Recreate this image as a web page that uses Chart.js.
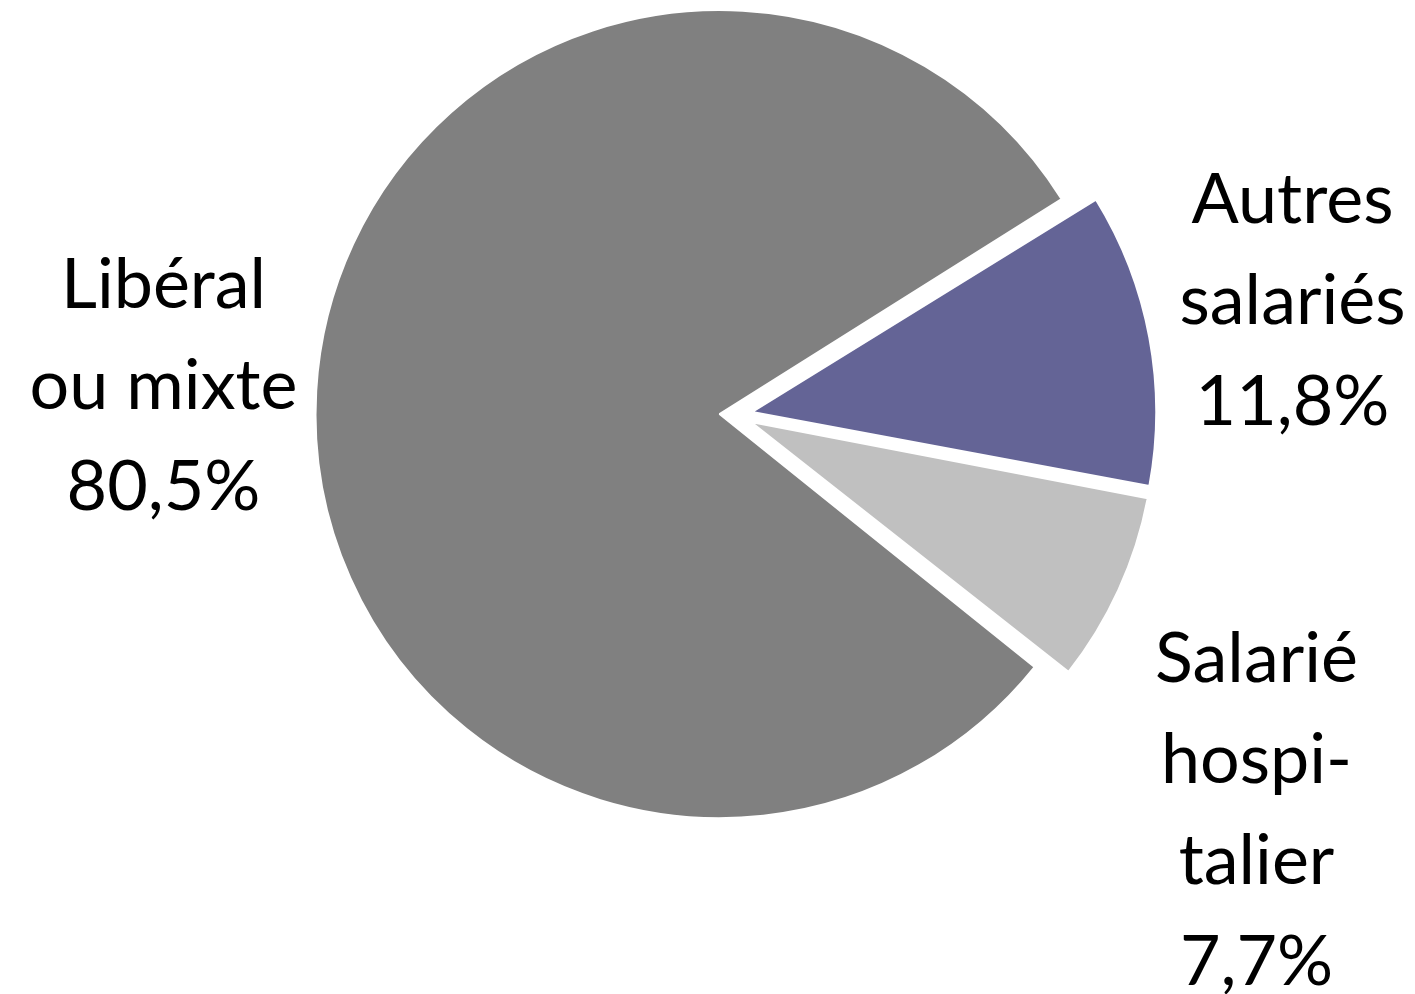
<!DOCTYPE html>
<html lang="fr">
<head>
<meta charset="utf-8">
<title>Répartition par mode d'exercice</title>
<script src="https://cdn.jsdelivr.net/npm/chart.js"></script>
<style>
  html, body { margin: 0; padding: 0; background: #fff; }
  #wrap { width: 1415px; height: 994px; position: relative; }
</style>
</head>
<body>
<div id="wrap"><canvas id="pie"></canvas></div>
<script>
// data, in clockwise order starting from the upper edge of the purple slice
var labels = [['Autres', 'salariés'], ['Salarié', 'hospi-', 'talier'], ['Libéral', 'ou mixte']];
var values = [11.8, 7.7, 80.5];
var colours = ['#646496', '#c0c0c0', '#808080'];
// every slice is pulled out a little; Chart.js moves an arc by offset/4
var explode = [68, 68, 64];

// text blocks, relative to the pie centre (x of the centre line, y of first baseline)
var labelAnchor = [[557, -192], [521, 267], [-572, -107]];
var lineHeight = 101;

function pct(v) {
  return v.toFixed(1).replace('.', ',') + '%';
}

// Chart.js also grows an exploded arc's radius; undo that so all slices keep the same size
var keepRadius = {
  id: 'keepRadius',
  beforeDatasetsDraw: function (chart) {
    var meta = chart.getDatasetMeta(0);
    var R = meta.controller.outerRadius;
    meta.data.forEach(function (arc) {
      var off = (arc.options.offset || 0) / 4;
      var fix = 1 - Math.sin(Math.min(Math.PI, arc.circumference || 0));
      arc.outerRadius = R - off * fix;
    });
  }
};

var pieLabels = {
  id: 'pieLabels',
  afterDatasetsDraw: function (chart) {
    var ctx = chart.ctx;
    var arcs = chart.getDatasetMeta(0).data;
    ctx.save();
    ctx.font = '70px Lato';
    ctx.fillStyle = '#000';
    ctx.textAlign = 'center';
    ctx.textBaseline = 'alphabetic';
    arcs.forEach(function (arc, i) {
      var lines = labels[i].concat([pct(values[i])]);
      var x = arc.x + labelAnchor[i][0];
      var y = arc.y + labelAnchor[i][1];
      lines.forEach(function (t, k) {
        ctx.fillText(t, x, y + k * lineHeight);
      });
    });
    ctx.restore();
  }
};

new Chart(document.getElementById('pie'), {
  type: 'pie',
  data: {
    labels: labels.map(function (l) { return l.join(' '); }),
    datasets: [{
      data: values,
      backgroundColor: colours,
      borderColor: '#ffffff',
      borderWidth: 2,
      offset: explode,
      hoverOffset: 0
    }]
  },
  options: {
    responsive: true,
    maintainAspectRatio: false,
    animation: false,
    rotation: 58.2,
    radius: 404,
    layout: { padding: { left: 56, right: 0, top: 0, bottom: 164 } },
    plugins: {
      legend: { display: false },
      tooltip: { enabled: false }
    },
    events: []
  },
  plugins: [keepRadius, pieLabels]
});
</script>
</body>
</html>
